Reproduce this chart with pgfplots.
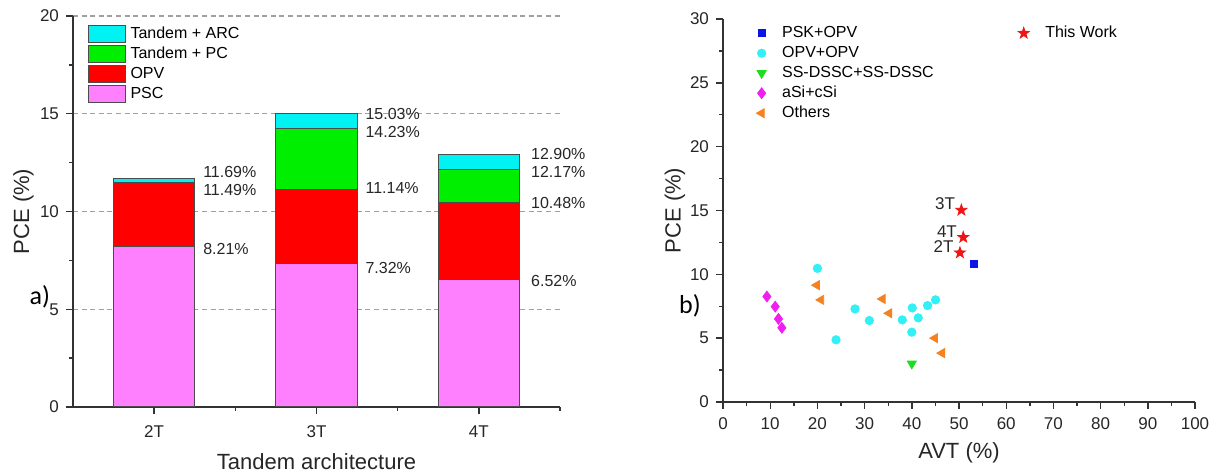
\documentclass[border=0pt]{standalone}
\usepackage{pgfplots}
\pgfplotsset{compat=1.18}
\usepackage{fontspec}
\setmainfont{Liberation Sans}
\newfontfamily\calfont{Carlito}
\definecolor{psc}{HTML}{FF80FF}
\definecolor{opv}{HTML}{FF0000}
\definecolor{pc}{HTML}{00EE00}
\definecolor{arc}{HTML}{00F2F2}
\definecolor{axisgray}{HTML}{333333}
\definecolor{gridgray}{HTML}{A0A0A0}
\definecolor{sqblue}{HTML}{0A14E6}
\definecolor{cyanpt}{HTML}{33F0F5}
\definecolor{greenpt}{HTML}{1EDC1E}
\definecolor{magpt}{HTML}{F01EF0}
\definecolor{orangept}{HTML}{F5821E}
\definecolor{redpt}{HTML}{F01414}

\pgfdeclareplotmark{fstar}{%
  \pgfpathmoveto{\pgfpointpolar{90}{1\pgfplotmarksize}}%
  \pgfpathlineto{\pgfpointpolar{126}{0.4\pgfplotmarksize}}%
  \pgfpathlineto{\pgfpointpolar{162}{1\pgfplotmarksize}}%
  \pgfpathlineto{\pgfpointpolar{198}{0.4\pgfplotmarksize}}%
  \pgfpathlineto{\pgfpointpolar{234}{1\pgfplotmarksize}}%
  \pgfpathlineto{\pgfpointpolar{270}{0.4\pgfplotmarksize}}%
  \pgfpathlineto{\pgfpointpolar{306}{1\pgfplotmarksize}}%
  \pgfpathlineto{\pgfpointpolar{342}{0.4\pgfplotmarksize}}%
  \pgfpathlineto{\pgfpointpolar{18}{1\pgfplotmarksize}}%
  \pgfpathlineto{\pgfpointpolar{54}{0.4\pgfplotmarksize}}%
  \pgfpathclose
  \pgfusepathqfillstroke
}

\tikzset{vlab/.style={anchor=west, inner sep=0pt, font=\fontsize{8}{9.6}\selectfont, text=black!85}}

\pgfplotsset{
  common/.style={
    scale only axis, clip=false,
    axis x line*=bottom, axis y line*=left,
    axis line style={axisgray, line width=0.75pt, -},
    tick style={axisgray, line width=0.7pt},
    tick align=outside,
    major tick length=3.5pt, minor tick length=2pt,
    ticklabel style={font=\fontsize{8.5}{10}\selectfont, text=black!85},
    /pgf/number format/assume math mode=true,
    label style={font=\fontsize{11}{13}\selectfont, text=black!85},
  },
  barleg/.style={legend image code/.code={\draw[##1] (0pt,-4.25pt) rectangle (18.5pt,4.25pt);}},
  dotleg/.style={legend image code/.code={\draw[mark repeat=2,mark phase=2,##1] plot coordinates {(0pt,0pt)(5pt,0pt)(10pt,0pt)};}},
}

\begin{document}
\begin{tikzpicture}
\useasboundingbox (0,0) rectangle (608.5pt,237.5pt);

% ---------------- (a) stacked bars ----------------
\begin{axis}[common,
  at={(36.5pt,34pt)}, anchor=south west,
  width=243.5pt, height=195.5pt,
  xmin=0.5, xmax=3.5, ymin=0, ymax=20,
  xtick={1,2,3}, xticklabels={2T,3T,4T},
  minor xtick={1.5,2.5,3.5},
  xticklabel style={yshift=-2.2pt},
  ytick={0,5,10,15,20}, minor ytick={2.5,7.5,12.5,17.5},
  ymajorgrids,
  grid style={gridgray, line width=0.6pt, dash pattern=on 2.5pt off 1.8pt},
  ybar stacked, bar width=0.5,
  xlabel={Tandem architecture}, ylabel={PCE (\%)},
  xlabel style={at={(axis description cs:0.5,-0.141)}, anchor=center},
  ylabel style={at={(axis description cs:-0.102,0.5)}, anchor=center},
  reverse legend,
  legend cell align=left,
  legend style={draw=none, fill=none, at={(axis description cs:0.029,0.98)}, anchor=north west,
    inner sep=0pt, row sep=0pt, font=\fontsize{8}{9.6}\selectfont,
    nodes={inner sep=1pt, text height=6.2pt, text depth=1.8pt},
    /tikz/every odd column/.append style={column sep=1.5pt}},
]
\addplot[fill=psc, draw=black!70, line width=0.5pt, barleg] coordinates {(1,8.21) (2,7.32) (3,6.52)};
\addplot[fill=opv, draw=black!70, line width=0.5pt, barleg] coordinates {(1,3.28) (2,3.82) (3,3.96)};
\addplot[fill=pc, draw=black!70, line width=0.5pt, barleg] coordinates {(1,0) (2,3.09) (3,1.69)};
\addplot[fill=arc, draw=black!70, line width=0.5pt, barleg] coordinates {(1,0.20) (2,0.80) (3,0.73)};
\legend{PSC, OPV, Tandem + PC, Tandem + ARC}
\node[vlab] at (axis cs:1.30,12.00) {11.69\%};
\node[vlab] at (axis cs:1.30,11.08) {11.49\%};
\node[vlab] at (axis cs:1.30,8.10) {8.21\%};
\node[vlab] at (axis cs:2.30,14.97) {15.03\%};
\node[vlab] at (axis cs:2.30,14.05) {14.23\%};
\node[vlab] at (axis cs:2.30,11.18) {11.14\%};
\node[vlab] at (axis cs:2.30,7.13) {7.32\%};
\node[vlab] at (axis cs:3.32,12.92) {12.90\%};
\node[vlab] at (axis cs:3.32,12.00) {12.17\%};
\node[vlab] at (axis cs:3.32,10.46) {10.48\%};
\node[vlab] at (axis cs:3.32,6.46) {6.52\%};
\node[font=\calfont\fontsize{13}{15}\selectfont, inner sep=0pt] at (axis description cs:-0.068,0.283) {a)};
\end{axis}

% ---------------- (b) scatter ----------------
\begin{axis}[common,
  at={(361.5pt,36.5pt)}, anchor=south west,
  width=236pt, height=191.5pt,
  xmin=0, xmax=100, ymin=0, ymax=30,
  xtick={0,10,...,100}, minor x tick num=1,
  xticklabel style={yshift=-1pt},
  ytick={0,5,...,30}, minor y tick num=1,
  xlabel={AVT (\%)}, ylabel={PCE (\%)},
  xlabel style={at={(axis description cs:0.5,-0.133)}, anchor=center},
  ylabel style={at={(axis description cs:-0.102,0.5)}, anchor=center},
  legend columns=2,
  legend cell align=left,
  legend style={draw=none, fill=none, at={(axis description cs:0.070,0.99)}, anchor=north west,
    inner sep=0pt, row sep=0pt, font=\fontsize{8}{9.6}\selectfont,
    nodes={inner sep=1pt, text height=6.2pt, text depth=1.8pt},
    /tikz/every odd column/.append style={column sep=7pt},
    /tikz/every even column/.append style={column sep=39pt}},
]
\addplot[only marks, mark=square*, mark size=1.8pt, color=sqblue, dotleg] coordinates {(53.1,10.8)};
\addlegendentry{PSK+OPV}
\addplot[only marks, mark=fstar, mark size=2.9pt, color=redpt, dotleg,
  nodes near coords, point meta=explicit symbolic,
  every node near coord/.style={anchor=east, inner sep=0pt, xshift=-3pt, yshift=3pt,
    font=\fontsize{8.5}{10}\selectfont, text=black!85}]
  coordinates {(50.5,15.03)[3T] (50.9,12.90)[4T] (50.2,11.69)[2T]};
\addlegendentry{This Work}
\addplot[only marks, mark=*, mark size=2.1pt, color=cyanpt, dotleg] coordinates {
  (20.0,10.47) (23.95,4.87) (27.97,7.29) (31.0,6.38) (37.98,6.43)
  (40.09,7.37) (41.36,6.59) (40.0,5.47) (43.34,7.55) (45.03,8.0)};
\addlegendentry{OPV+OPV}
\addlegendimage{empty legend}\addlegendentry{}
\addplot[only marks, mark=triangle*, mark size=2.6pt, mark options={rotate=180}, color=greenpt, dotleg] coordinates {(40.0,3.0)};
\addlegendentry{SS-DSSC+SS-DSSC}
\addlegendimage{empty legend}\addlegendentry{}
\addplot[only marks, mark=diamond*, mark size=2.7pt, color=magpt, dotleg] coordinates {
  (9.3,8.26) (11.06,7.47) (11.76,6.51) (12.47,5.81)};
\addlegendentry{aSi+cSi}
\addlegendimage{empty legend}\addlegendentry{}
\addplot[only marks, mark=triangle*, mark size=2.6pt, mark options={rotate=90}, color=orangept, dotleg] coordinates {
  (19.87,9.15) (20.78,8.0) (33.8,8.07) (35.2,6.95) (44.9,5.0) (46.4,3.83)};
\addlegendentry{Others}
\node[font=\calfont\fontsize{13}{15}\selectfont, inner sep=0pt] at (axis description cs:-0.07,0.252) {b)};
\end{axis}
\end{tikzpicture}
\end{document}
